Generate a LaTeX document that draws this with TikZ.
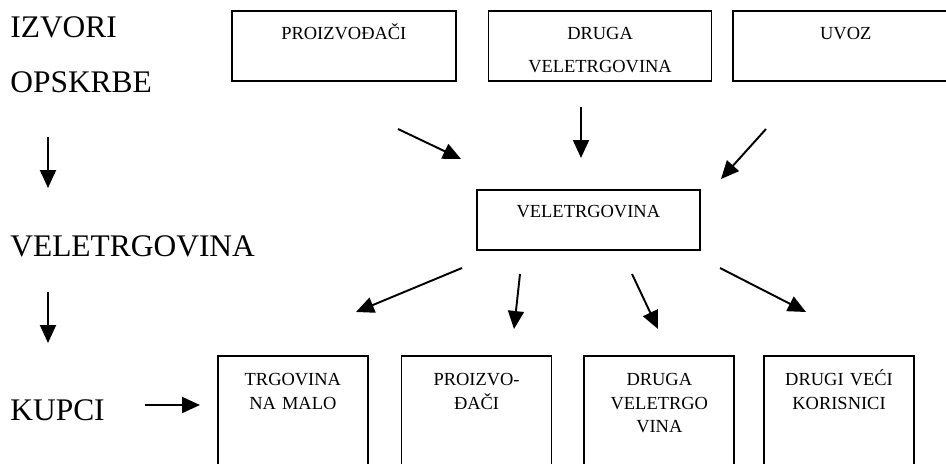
\documentclass[tikz,border=0pt]{standalone}
\usepackage{fontspec}
\setmainfont{Liberation Serif}
\usepackage{tikz}
\usetikzlibrary{arrows.meta}
\usetikzlibrary{positioning}
\tikzstyle{arrow} = [line width=1.1pt,->,>={Triangle[length=0.36cm,width=0.32cm]}]
\tikzstyle{izvor} = [
    rectangle, text width=4.48cm, inner xsep=0pt, inner ysep=0pt,
    text height=0.58cm, text depth=0.82cm, align=center, draw=black,
    line width=1pt, font=\fontsize{10.5}{18.8}\selectfont]
\tikzstyle{kupac} = [
    rectangle, text width=3cm, inner xsep=0pt, inner ysep=0pt,
    text height=0.6cm, text depth=2cm, align=center, draw=black,
    line width=1pt, font=\fontsize{10.5}{13.3}\selectfont]
\tikzstyle{razina} = [anchor=base west, inner sep=0pt, font=\fontsize{17.9}{20}\selectfont]

\begin{document}
\begin{tikzpicture}[x=0.02cm, y=-0.02cm]
\path[use as bounding box, clip] (0,0) rectangle (946,463);

\node (izvori) [razina] at (10,37) {IZVORI};
\node (opskrbe) [razina] at (10,92) {OPSKRBE};
\node (veleLijevo) [razina] at (10,256) {VELETRGOVINA};
\node (kupci) [razina] at (10,420) {KUPCI};

\node (proizv) [izvor, anchor=north west] at (231,10) {PROIZVOĐAČI};
\node (drugaVel) [izvor, text width=4.46cm, right=0.62cm of proizv] {DRUGA\\VELETRGOVINA};
\node (uvoz) [izvor, text width=4.5cm, right=0.4cm of drugaVel] {UVOZ};

\node (vel) [izvor, text width=4.46cm, text height=0.56cm, text depth=0.64cm,
    anchor=north west] at (476,189) {VELETRGOVINA};

\node (trgMalo) [kupac, anchor=north west] at (217,355) {TRGOVINA\\NA MALO};
\node (proizv2) [kupac, right=0.64cm of trgMalo] {PROIZVO-\\ĐAČI};
\node (drugaVel2) [kupac, right=0.62cm of proizv2] {DRUGA\\VELETRGO\\VINA};
\node (drugiVeci) [kupac, right=0.56cm of drugaVel2] {DRUGI VEĆI\\KORISNICI};

\coordinate (l1s) at (48,137);
\coordinate (l1e) at (48,188);
\coordinate (l2s) at (48,292);
\coordinate (l2e) at (48,343);
\coordinate (k1s) at (145,405);
\coordinate (k1e) at (200,405);

\coordinate (u1s) at (398,129);
\coordinate (u1e) at (461,159);
\coordinate (u2s) at (581,107);
\coordinate (u2e) at (581,158);
\coordinate (u3s) at (766,129);
\coordinate (u3e) at (721,179);

\coordinate (i1s) at (462,268);
\coordinate (i1e) at (356,312);
\coordinate (i2s) at (520,274);
\coordinate (i2e) at (514,329);
\coordinate (i3s) at (632,274);
\coordinate (i3e) at (658,329);
\coordinate (i4s) at (720,268);
\coordinate (i4e) at (806,312);

\draw [arrow] (l1s) -- (l1e);
\draw [arrow] (l2s) -- (l2e);
\draw [arrow] (k1s) -- (k1e);

\draw [arrow] (u1s) -- (u1e);
\draw [arrow] (u2s) -- (u2e);
\draw [arrow] (u3s) -- (u3e);

\draw [arrow] (i1s) -- (i1e);
\draw [arrow] (i2s) -- (i2e);
\draw [arrow] (i3s) -- (i3e);
\draw [arrow] (i4s) -- (i4e);
\end{tikzpicture}
\end{document}
